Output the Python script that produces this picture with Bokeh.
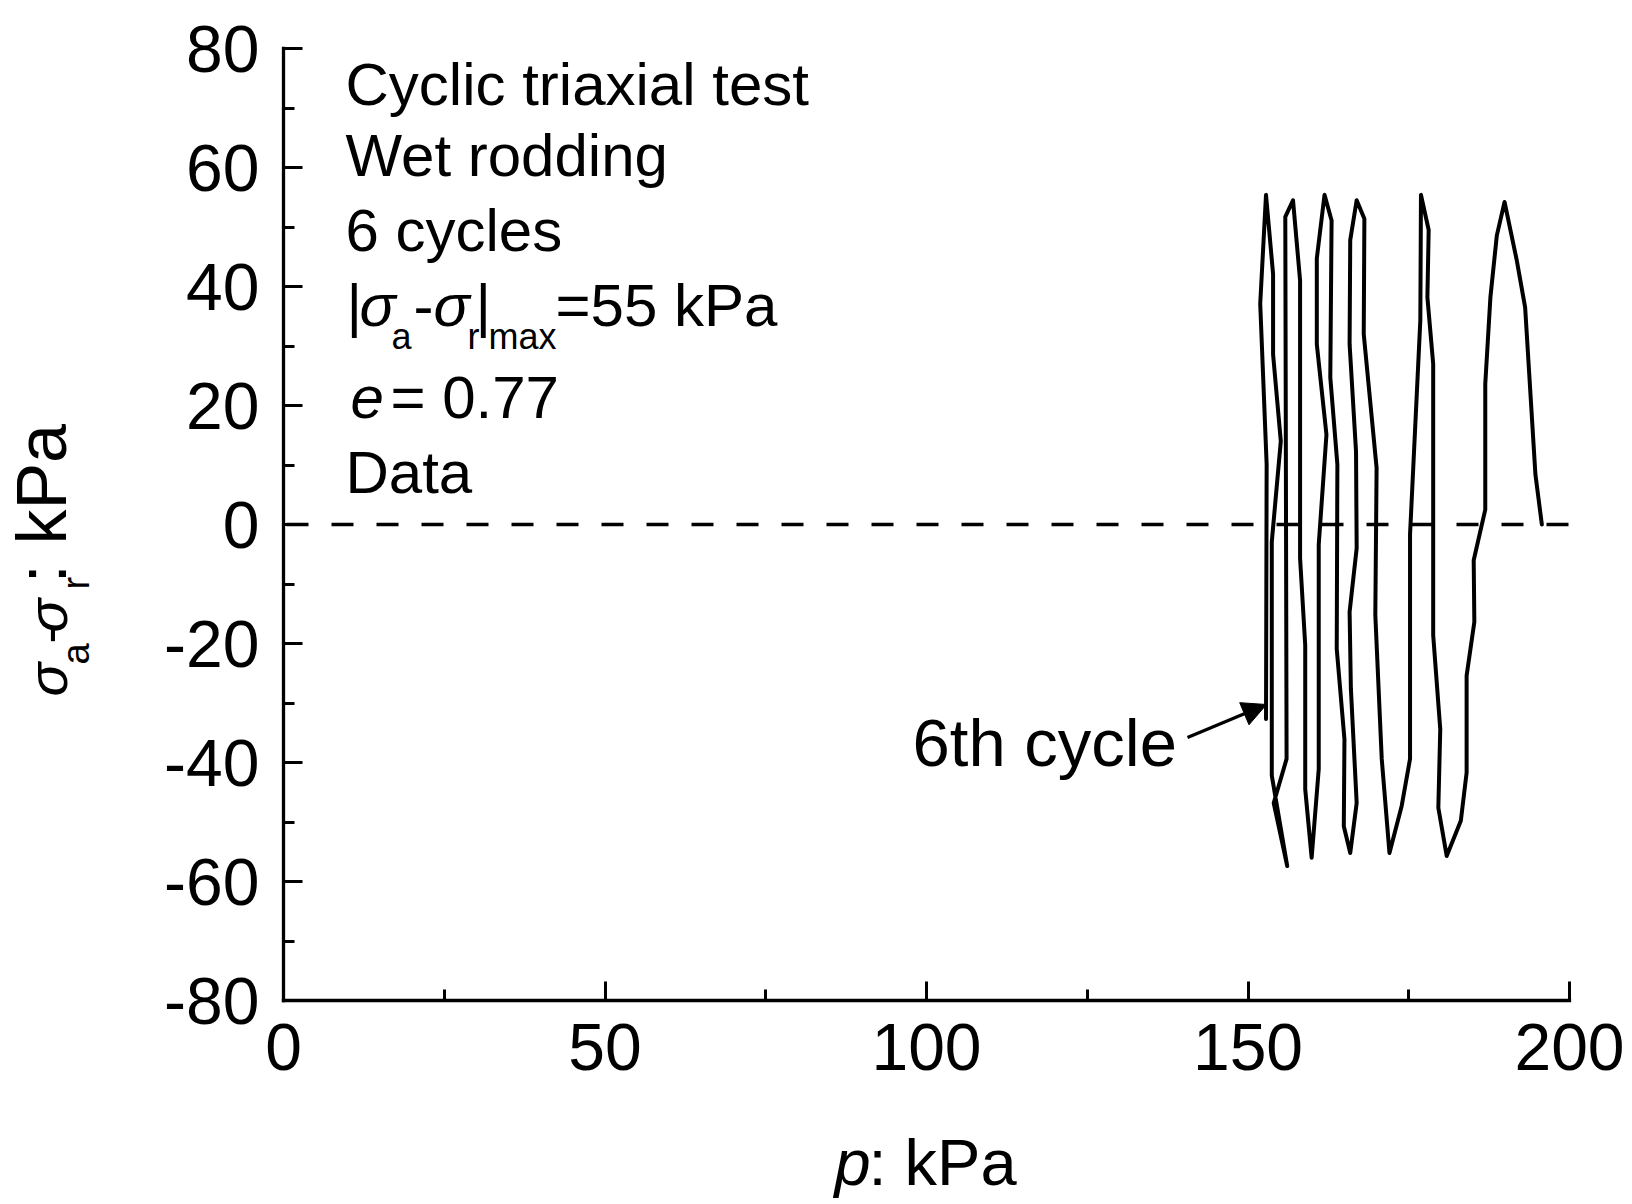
import math
from bokeh.plotting import figure
from bokeh.models import Range1d, SingleIntervalTicker, Label, Arrow, NormalHead
from bokeh.embed import file_html
from bokeh.resources import INLINE

# ---------------- data ----------------
p_kpa = [195.7, 194.7, 193.1, 191.8, 189.9, 188.7, 187.7, 186.9, 186.9, 185.1, 185.2, 184.0, 184.0, 183.1, 180.9,
         179.6, 179.9, 178.8, 178.8, 177.9, 178.1, 176.9,
         176.8, 175.2, 175.2, 173.9, 172.0,
         170.8, 169.8, 170.0, 168.0, 168.1, 166.9,
         165.9, 165.8, 166.8, 166.9, 165.8, 166.0, 166.9, 165.9,
         164.9, 165.0, 163.8, 163.9, 162.8, 163.0, 161.9,
         160.7, 160.7, 162.2, 161.0, 161.0, 159.9,
         158.9, 158.9, 158.1, 158.1, 157.0,
         155.8, 156.0, 154.0, 156.1,
         153.7, 153.7, 155.1, 153.9, 153.9, 152.8,
         151.9, 152.9, 152.8]
q_kpa = [0.0, 8.4, 36.5, 44.4, 54.2, 48.6, 38.2, 23.6, 2.5, -6.0, -16.4, -25.4, -41.7, -49.8, -55.7,
         -47.6, -34.4, -18.6, 27.0, 38.2, 49.5, 55.4,
         34.3, -1.7, -39.4, -47.3, -55.2,
         -39.4, -15.2, 9.5, 32.0, 51.4, 54.5,
         47.8, 30.3, 12.3, -4.0, -14.7, -27.6, -46.8, -55.2,
         -50.7, -36.1, -20.9, 10.1, 24.7, 51.1, 55.4,
         44.7, 30.3, 15.1, -3.4, -41.1, -56.0,
         -44.5, -20.3, -5.7, 41.0, 54.5,
         51.7, -39.4, -46.8, -57.4,
         -42.2, -2.9, 14.0, 28.6, 42.1, 55.4,
         37.1, 10.1, -32.7]

x_axis_range = (0, 200)
y_axis_range = (-80, 80)
x_tick_interval = 50
y_tick_interval = 20
zero_line_x = [0, 201.5]
zero_line_y = [0, 0]

info_lines = ["Cyclic triaxial test", "Wet rodding", "6 cycles"]
e_value = "0.77"
q_max_text = "=55 kPa"
arrow_text = "6th cycle"

# ---------------- layout ----------------
W, H = 1632, 1204
FL, FR, FT, FB = 283, 1569, 48, 1000
SX = (FR - FL) / (x_axis_range[1] - x_axis_range[0])
SY = (FB - FT) / (y_axis_range[1] - y_axis_range[0])
FONT = "Liberation Sans"

def X(px):
    return x_axis_range[0] + (px - FL) / SX

def Y(py):
    return y_axis_range[1] - (py - FT) / SY

# the frame fills the canvas; axes sit at fixed data locations with bounds
p = figure(width=W, height=H,
           x_range=Range1d(X(0), X(W)), y_range=Range1d(Y(H), Y(0)),
           output_backend="svg", toolbar_location=None,
           min_border=0, min_border_left=0, min_border_right=0, min_border_top=0, min_border_bottom=0)
p.outline_line_color = None
p.xgrid.visible = False
p.ygrid.visible = False
p.background_fill_color = "white"
p.border_fill_color = "white"

xa, ya = p.xaxis[0], p.yaxis[0]
xa.fixed_location = y_axis_range[0]
xa.bounds = x_axis_range
ya.fixed_location = x_axis_range[0]
ya.bounds = y_axis_range
for ax, iv in ((xa, x_tick_interval), (ya, y_tick_interval)):
    ax.ticker = SingleIntervalTicker(interval=iv, num_minor_ticks=2)
    ax.axis_line_width = 3.3
    ax.axis_line_color = "black"
    ax.axis_line_cap = "square"
    ax.major_tick_line_width = 3
    ax.minor_tick_line_width = 3
    ax.major_tick_in = 19
    ax.major_tick_out = 0
    ax.minor_tick_in = 11
    ax.minor_tick_out = 0
    ax.major_label_text_font = FONT
    ax.major_label_text_font_size = "66px"
    ax.major_label_text_color = "black"
ya.major_label_overrides = {v: str(v) for v in range(y_axis_range[0], y_axis_range[1] + 1, y_tick_interval)}
xa.major_label_standoff = 23
ya.major_label_standoff = 24

# zero dashed line
p.line(x=zero_line_x, y=zero_line_y, line_color="black", line_width=3.6, line_dash="22 23", line_dash_offset=42)

# data curve
p.line(x=p_kpa, y=q_kpa, line_color="black", line_width=4, line_join="round", line_cap="round")

BASE_SHIFT = 0.39  # em, empirical correction of the label baseline

def lab(text, px, py, size, italic=False, angle=0.0):
    if angle == 0.0:
        py = py - BASE_SHIFT * size
    else:
        px = px - BASE_SHIFT * size
    p.add_layout(Label(x=X(px), y=Y(py), text=text, text_font=FONT, text_font_size=f"{size}px",
                       text_font_style="italic" if italic else "normal", text_color="black",
                       text_baseline="alphabetic", text_align="left", angle=angle))

# info block
BIG = 60
SUB = 36
for txt, base in zip(info_lines, (107, 178, 253)):
    lab(txt, 345, base, BIG)
# |sigma_a - sigma_r|max = 55 kPa
lab("|", 346, 328, BIG)
lab("σ", 359, 328, BIG, italic=True)
lab("a", 391, 350, SUB)
lab("-", 413, 328, BIG)
lab("σ", 433, 328, BIG, italic=True)
lab("r", 467, 350, SUB)
lab("|", 475, 328, BIG)
lab("max", 488, 350, SUB)
lab(q_max_text, 555, 328, BIG)
# e = 0.77
lab("e", 350, 420, BIG, italic=True)
lab("= " + e_value, 390, 420, BIG)
lab("Data", 345, 495, BIG)

# arrow annotation
lab(arrow_text, 912, 768, 67)
p.add_layout(Arrow(x_start=X(1187), y_start=Y(737), x_end=X(1266), y_end=Y(704),
                   line_width=3.3, line_color="black",
                   end=NormalHead(size=24, fill_color="black", line_color="black", line_width=1)))

# x axis label
lab("p", 834, 1187, 65, italic=True)
lab(": kPa", 868, 1187, 65)

# y axis label (rotated)
R = math.pi / 2
lab("σ", 69, 696, 56, italic=True, angle=R)
lab("a", 90, 664, 38, angle=R)
lab("-", 69, 643, 52, angle=R)
lab("σ", 69, 632, 56, italic=True, angle=R)
lab("r", 90, 589, 38, angle=R)
lab(": kPa", 69, 583, 70, angle=R)

open("out.html", "w").write(file_html(p, INLINE))
